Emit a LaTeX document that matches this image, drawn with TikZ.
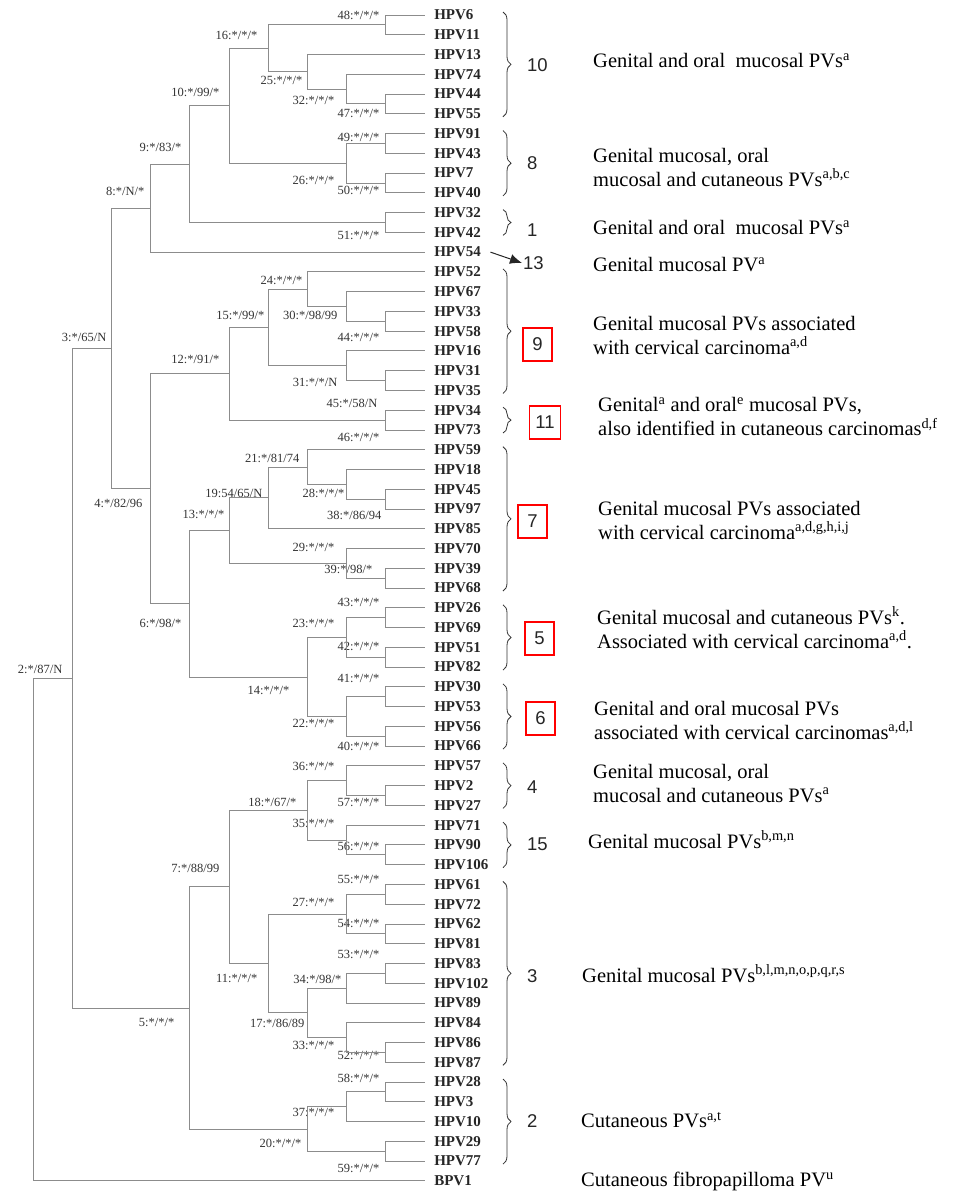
\documentclass[tikz,border=0pt]{standalone}
\usepackage{fontspec}
\setmainfont{Liberation Serif}
\newfontfamily\numfont{Liberation Sans}
\usetikzlibrary{calc,arrows.meta,decorations.pathreplacing,positioning}

% internal node: number, level, child, child, support values, label position
\newcommand{\tnode}[7]{%
  \path let \p1=($(#3)!.5!(#4)$) in coordinate (n#1) at ({33.3+39.15*#2},\y1);
  \draw[branch] (#3) -| (n#1) (#4) -| (n#1);
  \node[lab] (b#1) at (#6,#7) {#1:#5};
}
\newcommand{\brk}{\\\strut}

\tikzset{
  branch/.style={draw=black!45, line width=0.9pt},
  leaf/.style={anchor=west, inner xsep=1pt, outer xsep=8.5pt, inner ysep=1pt,
    font=\bfseries\fontsize{15}{17}\selectfont, text=black!85},
  lab/.style={anchor=east, inner sep=0.5pt, font=\fontsize{12.5}{14}\selectfont, text=black!80},
  num/.style={inner sep=1pt, font=\numfont\fontsize{18.5}{20}\selectfont, text=black!85},
  redbox/.style={draw=red, line width=1.6pt, minimum width=29pt, minimum height=33pt},
  desc/.style={anchor=west, align=left, inner sep=0pt, font=\fontsize{20.5}{24}\selectfont,
    execute at begin node=\strut},
  brc/.style={decorate, decoration={brace, amplitude=8pt}, draw=black!80, line width=0.8pt}
}

\begin{document}
\begin{tikzpicture}[x=1pt, y=-1pt]
  \useasboundingbox (0,0) rectangle (960,1194);

  % leaves
  \foreach \nm [count=\i from 0] in {HPV6,HPV11,HPV13,HPV74,HPV44,HPV55,HPV91,HPV43,HPV7,HPV40,
      HPV32,HPV42,HPV54,HPV52,HPV67,HPV33,HPV58,HPV16,HPV31,HPV35,HPV34,HPV73,HPV59,HPV18,HPV45,
      HPV97,HPV85,HPV70,HPV39,HPV68,HPV26,HPV69,HPV51,HPV82,HPV30,HPV53,HPV56,HPV66,HPV57,HPV2,
      HPV27,HPV71,HPV90,HPV106,HPV61,HPV72,HPV62,HPV81,HPV83,HPV102,HPV89,HPV84,HPV86,HPV87,
      HPV28,HPV3,HPV10,HPV29,HPV77,BPV1}
    \node[leaf] (\nm) at (424.8,{15+19.76*\i}) {\nm};

  % upper clades
  \tnode{48}{9}{HPV6}{HPV11}{*/*/*}{380}{15}
  \tnode{47}{9}{HPV44}{HPV55}{*/*/*}{380}{113}
  \tnode{32}{8}{HPV74}{n47}{*/*/*}{335}{100}
  \tnode{25}{7}{HPV13}{n32}{*/*/*}{303}{80}
  \tnode{16}{6}{n48}{n25}{*/*/*}{258}{35}
  \tnode{49}{9}{HPV91}{HPV43}{*/*/*}{380}{137}
  \tnode{50}{9}{HPV7}{HPV40}{*/*/*}{380}{190}
  \tnode{26}{8}{n49}{n50}{*/*/*}{335}{180}
  \tnode{10}{5}{n16}{n26}{*/99/*}{220}{92}
  \tnode{51}{9}{HPV32}{HPV42}{*/*/*}{380}{235}
  \tnode{9}{4}{n10}{n51}{*/83/*}{182}{147}
  \tnode{8}{3}{n9}{HPV54}{*/N/*}{145}{191}

  \tnode{44}{9}{HPV33}{HPV58}{*/*/*}{380}{337}
  \tnode{30}{8}{HPV67}{n44}{*/98/99}{338}{315}
  \tnode{24}{7}{HPV52}{n30}{*/*/*}{303}{280}
  \tnode{45}{9}{HPV31}{HPV35}{*/58/N}{378}{403}
  \tnode{31}{8}{HPV16}{n45}{*/*/N}{338}{382}
  \tnode{15}{6}{n24}{n31}{*/99/*}{265}{315}
  \tnode{46}{9}{HPV34}{HPV73}{*/*/*}{380}{437}
  \tnode{12}{5}{n15}{n46}{*/91/*}{220}{359}

  \tnode{38}{9}{HPV45}{HPV97}{*/86/94}{382}{515}
  \tnode{28}{8}{HPV18}{n38}{*/*/*}{345}{493}
  \tnode{21}{7}{HPV59}{n28}{*/81/74}{300}{458}
  \tnode{19}{6}{n21}{HPV85}{54/65/N}{263}{493}
  \tnode{39}{9}{HPV39}{HPV68}{*/98/*}{373}{569}
  \tnode{29}{8}{HPV70}{n39}{*/*/*}{335}{547}
  \tnode{13}{5}{n19}{n29}{*/*/*}{225}{514}

  \tnode{43}{9}{HPV26}{HPV69}{*/*/*}{380}{602}
  \tnode{42}{9}{HPV51}{HPV82}{*/*/*}{380}{646}
  \tnode{23}{8}{n43}{n42}{*/*/*}{335}{623}
  \tnode{41}{9}{HPV30}{HPV53}{*/*/*}{380}{678}
  \tnode{40}{9}{HPV56}{HPV66}{*/*/*}{380}{746}
  \tnode{22}{8}{n41}{n40}{*/*/*}{335}{723}
  \tnode{14}{7}{n23}{n22}{*/*/*}{290}{690}
  \tnode{6}{4}{n13}{n14}{*/98/*}{182}{623}
  \tnode{4}{3}{n12}{n6}{*/82/96}{143}{503}
  \tnode{3}{2}{n8}{n4}{*/65/N}{107}{337}

  % lower clades
  \tnode{57}{9}{HPV2}{HPV27}{*/*/*}{380}{802}
  \tnode{36}{8}{HPV57}{n57}{*/*/*}{335}{766}
  \tnode{56}{9}{HPV90}{HPV106}{*/*/*}{380}{846}
  \tnode{35}{8}{HPV71}{n56}{*/*/*}{335}{823}
  \tnode{18}{7}{n36}{n35}{*/67/*}{297}{802}
  \tnode{55}{9}{HPV61}{HPV72}{*/*/*}{380}{879}
  \tnode{54}{9}{HPV62}{HPV81}{*/*/*}{380}{923}
  \tnode{27}{8}{n55}{n54}{*/*/*}{335}{902}
  \tnode{53}{9}{HPV83}{HPV102}{*/*/*}{380}{954}
  \tnode{34}{8}{n53}{HPV89}{*/98/*}{342}{979}
  \tnode{52}{9}{HPV86}{HPV87}{*/*/*}{380}{1055}
  \tnode{33}{8}{HPV84}{n52}{*/*/*}{335}{1045}
  \tnode{17}{7}{n34}{n33}{*/86/89}{305}{1023}
  \tnode{11}{6}{n27}{n17}{*/*/*}{258}{978}
  \tnode{7}{5}{n18}{n11}{*/88/99}{220}{868}
  \tnode{58}{9}{HPV28}{HPV3}{*/*/*}{380}{1078}
  \tnode{37}{8}{n58}{HPV10}{*/*/*}{335}{1112}
  \tnode{59}{9}{HPV29}{HPV77}{*/*/*}{380}{1168}
  \tnode{20}{7}{n37}{n59}{*/*/*}{302}{1143}
  \tnode{5}{4}{n7}{n20}{*/*/*}{175}{1022}
  \tnode{2}{1}{n3}{n5}{*/87/N}{63}{669}

  % root
  \path let \p1=($(n2)!.5!(BPV1)$) in coordinate (n1) at (33.3,\y1);
  \draw[branch] (n2) -| (n1) (BPV1) -| (n1);

  % braces
  \foreach \a/\b in {0/5,6/9,10/11,13/19,20/21,22/29,30/33,34/37,38/40,41/43,44/53,54/58}
    \draw[brc] (503,{15+19.76*\a-3}) -- (503,{15+19.76*\b+3});

  % group numbers
  \node[num, anchor=west] (c10) at (526,65) {10};
  \node[num, anchor=west] (c8) at (526,163) {8};
  \node[num, anchor=west] (c1) at (526,230) {1};
  \node[num, anchor=west] (c13) at (522,263) {13};
  \node[num, redbox] (c9) at (537.5,344.5) {9};
  \node[num, redbox, minimum width=31pt] (c11) at (545,422.5) {11};
  \node[num, redbox] (c7) at (532.5,521.5) {7};
  \node[num, redbox] (c5) at (539.5,638.5) {5};
  \node[num, redbox] (c6) at (540.5,718.5) {6};
  \node[num, anchor=west] (c4) at (526,787) {4};
  \node[num, anchor=west] (c15) at (526,844) {15};
  \node[num, anchor=west] (c3) at (526,976) {3};
  \node[num, anchor=west] (c2) at (526,1121) {2};

  \draw[-{Latex[length=12pt,width=10pt]}, line width=1pt, black!85] (HPV54.east) -- (c13.west);

  % descriptions
  \node[desc] (d10) at (593,63) {Genital and oral~ mucosal PVs\textsuperscript{a}};
  \node[desc] (d8) at (593,171) {Genital mucosal, oral\brk mucosal and cutaneous PVs\textsuperscript{a,b,c}};
  \node[desc] (d1) at (593,230) {Genital and oral~ mucosal PVs\textsuperscript{a}};
  \node[desc] (d13) at (593,267) {Genital mucosal PV\textsuperscript{a}};
  \node[desc] (d9) at (593,339) {Genital mucosal PVs associated\brk with cervical carcinoma\textsuperscript{a,d}};
  \node[desc] (d11) at (598,420) {Genital\textsuperscript{a} and oral\textsuperscript{e} mucosal PVs,\brk also identified in cutaneous carcinomas\textsuperscript{d,f}};
  \node[desc] (d7) at (598,524) {Genital mucosal PVs associated\brk with cervical carcinoma\textsuperscript{a,d,g,h,i,j}};
  \node[desc] (d5) at (597,631) {Genital mucosal and cutaneous PVs\textsuperscript{k}.\brk Associated with cervical carcinoma\textsuperscript{a,d}.};
  \node[desc] (d6) at (594,724) {Genital and oral mucosal PVs\brk associated with cervical carcinomas\textsuperscript{a,d,l}};
  \node[desc] (d4) at (593,787) {Genital mucosal, oral\brk mucosal and cutaneous PVs\textsuperscript{a}};
  \node[desc] (d15) at (588,843) {Genital mucosal PVs\textsuperscript{b,m,n}};
  \node[desc] (d3) at (582,977) {Genital mucosal PVs\textsuperscript{b,l,m,n,o,p,q,r,s}};
  \node[desc] (d2) at (581,1123) {Cutaneous PVs\textsuperscript{a,t}};
  \node[desc] (dB) at (581,1182) {Cutaneous fibropapilloma PV\textsuperscript{u}};
\end{tikzpicture}
\end{document}
